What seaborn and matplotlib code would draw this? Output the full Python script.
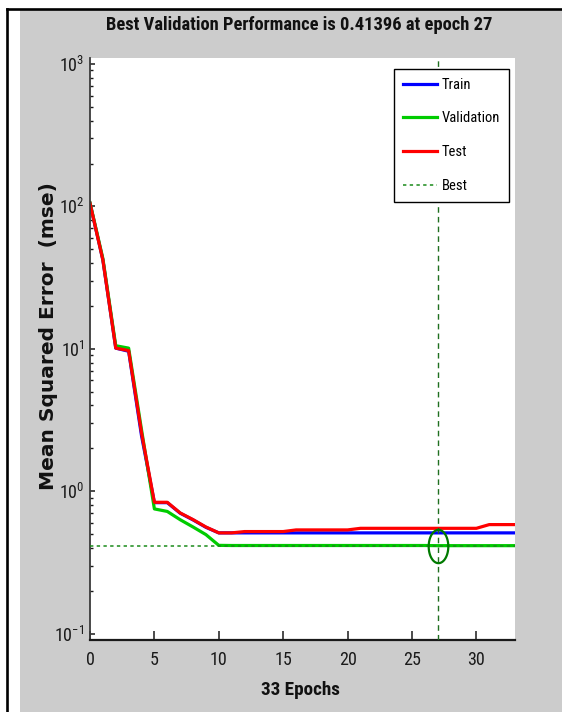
import numpy as np
import pandas as pd
import matplotlib
matplotlib.use("Agg")
import matplotlib.pyplot as plt
import seaborn as sns
from matplotlib.patches import Rectangle
from matplotlib.lines import Line2D
from matplotlib.path import Path
from matplotlib.ticker import LogLocator, LogFormatterMathtext, NullLocator, FixedLocator

# ---------------- data ----------------
epochs = list(range(0, 34))
train = [105, 42, 10.1, 9.6, 2.45, 0.83, 0.83, 0.70, 0.628, 0.557, 0.509, 0.509,
         0.509, 0.509, 0.509, 0.509, 0.509, 0.509, 0.509, 0.509, 0.509, 0.509,
         0.509, 0.509, 0.509, 0.509, 0.509, 0.509, 0.509, 0.509, 0.509, 0.509,
         0.509, 0.509]
validation = [106, 43, 10.5, 10.1, 2.7, 0.75, 0.72, 0.63, 0.56, 0.495, 0.416, 0.415,
              0.415, 0.415, 0.415, 0.415, 0.415, 0.415, 0.415, 0.415, 0.415, 0.415,
              0.415, 0.415, 0.415, 0.415, 0.415, 0.41396, 0.414, 0.414, 0.414, 0.414,
              0.414, 0.414]
test = [105, 42, 10.1, 9.7, 2.57, 0.835, 0.835, 0.703, 0.631, 0.56, 0.509, 0.509,
        0.520, 0.520, 0.520, 0.520, 0.534, 0.534, 0.534, 0.534, 0.534, 0.548,
        0.548, 0.548, 0.548, 0.548, 0.548, 0.548, 0.548, 0.548, 0.548, 0.582,
        0.582, 0.582]
best_epoch = 27
best_value = 0.41396
series_names = ["Train", "Validation", "Test", "Best"]
x_ticks = [0, 5, 10, 15, 20, 25, 30]
title_text = "Best Validation Performance is 0.41396 at epoch 27"
xlabel_text = "33 Epochs"
ylabel_text = "Mean Squared Error  (mse)"

# ---------------- style ----------------
narrow = ["Roboto Condensed", "PT Sans Narrow", "Liberation Sans", "DejaVu Sans"]
plt.rcParams["font.family"] = narrow
plt.rcParams["mathtext.fontset"] = "custom"
plt.rcParams["mathtext.rm"] = "Roboto Condensed"
plt.rcParams["mathtext.it"] = "Roboto Condensed:italic"
plt.rcParams["mathtext.bf"] = "Roboto Condensed:bold"

W, H = 562, 712
fig = plt.figure(figsize=(W / 100, H / 100), dpi=100, facecolor="white")

# gray figure panel and black frame lines
fig.patches.append(Rectangle((20 / W, 0), (W - 20) / W, (H - 10) / H,
                             transform=fig.transFigure, facecolor="#cccccc",
                             edgecolor="none", zorder=-10))
fig.lines.append(Line2D([7 / W, 7 / W], [0, (H - 8.5) / H], transform=fig.transFigure,
                        color="black", lw=1.9))
fig.lines.append(Line2D([7 / W, 1], [(H - 8.5) / H, (H - 8.5) / H], transform=fig.transFigure,
                        color="black", lw=1.9))

ax = fig.add_axes([90 / W, (H - 640) / H, 425 / W, 582 / H])
ax.set_facecolor("white")

df = pd.DataFrame({"epoch": epochs, "Train": train, "Validation": validation, "Test": test})
sns.lineplot(data=df, x="epoch", y="Train", color="#0000ff", lw=2.3, label="Train", ax=ax)
sns.lineplot(data=df, x="epoch", y="Validation", color="#00cc00", lw=2.3, label="Validation", ax=ax)
sns.lineplot(data=df, x="epoch", y="Test", color="#ff0000", lw=2.3, label="Test", ax=ax)

best_col = "#1a8a1a"
ax.axhline(best_value, color=best_col, lw=1.1, ls=(0, (2.2, 2.2)), label="Best", zorder=5)
ax.axvline(best_epoch, color="#1f6f1f", lw=1.0, ls=(0, (4, 3)), zorder=5)

# elliptical circle marker
t = np.linspace(0, 2 * np.pi, 80)
ell = Path(np.column_stack([10 * np.cos(t), 17 * np.sin(t)]), closed=True)
ax.plot([best_epoch], [best_value], marker=ell, markersize=24, markerfacecolor="none",
        markeredgecolor="#007a00", markeredgewidth=1.6, ls="none", zorder=6)

ax.set_yscale("log")
ax.set_xlim(0, 33)
ax.set_ylim(10 ** -1.0456, 10 ** 3.042)
ax.xaxis.set_major_locator(FixedLocator(x_ticks))
ax.xaxis.set_minor_locator(NullLocator())
ax.yaxis.set_major_locator(LogLocator(base=10, numticks=10))
ax.yaxis.set_minor_locator(LogLocator(base=10, subs=np.arange(2, 10), numticks=20))
ax.yaxis.set_major_formatter(LogFormatterMathtext())
ax.set_xlabel("")
ax.set_ylabel("")

for s in ["top", "right"]:
    ax.spines[s].set_visible(False)
ax.spines["left"].set_color("#3a3a3a")
ax.spines["bottom"].set_color("#1a1a1a")
ax.spines["left"].set_linewidth(1.3)
ax.spines["bottom"].set_linewidth(1.6)

ax.tick_params(axis="x", direction="in", length=6.5, width=1.1, pad=8, labelsize=13,
               colors="#1a1a1a")
ax.tick_params(axis="y", which="major", direction="in", length=3.6, width=1.1, pad=4,
               labelsize=13, colors="#1a1a1a")
ax.tick_params(axis="y", which="minor", direction="in", length=2.0, width=1.0,
               colors="#1a1a1a")

leg = ax.legend(loc="upper right", bbox_to_anchor=((509 - 90) / 425, (640 - 69) / 582),
                borderaxespad=0, fancybox=False, framealpha=1, edgecolor="black",
                fontsize=10.5, handlelength=2.3, handletextpad=0.35, labelspacing=1.35,
                borderpad=0.6)
leg.get_frame().set_linewidth(1.0)
leg.set_zorder(10)

fig.text(299 / W, (H - 30) / H, title_text, ha="center", va="baseline",
         fontsize=13.3, fontweight="bold", color="#111111")
fig.text(300 / W, (H - 695) / H, xlabel_text, ha="center", va="baseline",
         fontsize=13.8, fontweight="bold", color="#111111")
fig.text(49 / W, (H - 336.5) / H, ylabel_text, ha="center", va="center", rotation=90,
         fontsize=14.5, fontweight="bold", color="#111111", family="DejaVu Sans")

fig.savefig("out.png", dpi=100, facecolor=fig.get_facecolor())
